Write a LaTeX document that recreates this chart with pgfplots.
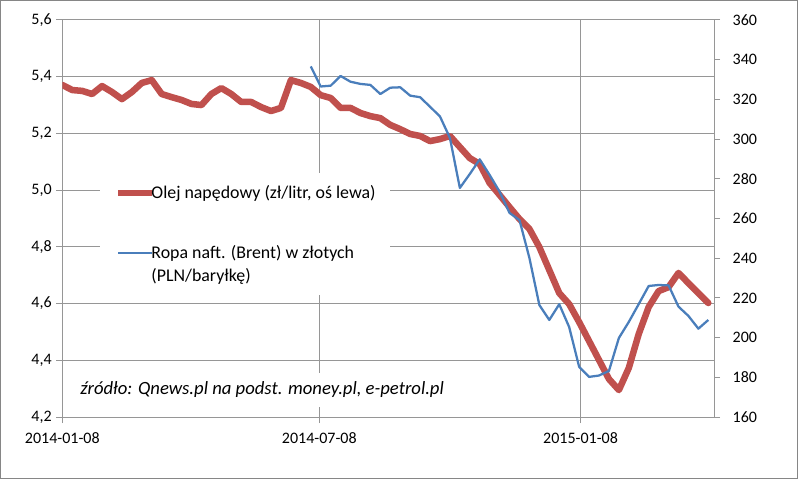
\documentclass[border=0pt]{standalone}
\usepackage{fontspec}
\setmainfont{Carlito}
\usepackage{pgfplots}
\pgfplotsset{compat=1.18}
\definecolor{redline}{RGB}{192,80,77}
\definecolor{blueline}{RGB}{74,126,187}
\definecolor{gridc}{RGB}{150,150,150}
\definecolor{framec}{RGB}{134,134,134}

\pgfplotstableread{
x y
0 5.371
7 5.353
14 5.350
21 5.339
28 5.367
35 5.346
42 5.321
49 5.346
56 5.378
63 5.388
70 5.339
77 5.328
84 5.318
91 5.304
98 5.300
105 5.339
112 5.360
119 5.339
126 5.311
133 5.311
140 5.293
147 5.279
154 5.290
161 5.388
168 5.378
175 5.364
182 5.335
189 5.325
196 5.290
203 5.290
210 5.272
217 5.261
224 5.254
231 5.230
238 5.215
245 5.198
252 5.191
259 5.173
266 5.180
273 5.191
280 5.152
287 5.113
294 5.092
301 5.025
308 4.983
315 4.940
322 4.898
329 4.863
336 4.799
343 4.718
350 4.637
357 4.598
364 4.535
371 4.468
378 4.401
385 4.334
392 4.295
399 4.373
406 4.493
413 4.588
420 4.644
427 4.658
434 4.708
441 4.672
448 4.637
455 4.602
}\diesel

\pgfplotstableread{
x y
175 336.6
182 326.5
189 326.9
196 331.8
203 328.9
210 327.8
217 327.3
224 322.7
231 325.9
238 326.1
245 321.9
252 321.1
259 316.3
266 311.4
273 300.6
280 275.4
287 282.4
294 289.8
301 281.9
308 273.5
315 262.8
322 259.2
329 240.1
336 216.4
343 208.9
350 216.8
357 205.3
364 185.3
371 180.2
378 180.9
385 183.2
392 199.8
399 207.9
406 216.9
413 226.0
420 226.5
427 226.3
434 215.6
441 210.9
448 204.5
455 208.9
}\brent

\pgfplotsset{
  myaxis/.style={
    at={(0,0)}, anchor=south west,
    scale only axis, width=488.775bp, height=297.75bp,
    xmin=0, xmax=459,
    axis line style={gridc, line width=0.75bp},
    tick style={gridc, line width=0.75bp},
    major tick length=4.5bp,
    tick align=outside,
    ticklabel style={font=\fontsize{12bp}{14bp}\selectfont, text=black},
    /pgf/number format/assume math mode=true,
  },
  limg/.style={legend image code/.code={\draw[##1] (0bp,0bp) -- (25.5bp,0bp);}},
  limgup/.style={legend image code/.code={\draw[##1] (0bp,8.5bp) -- (25.5bp,8.5bp); \path (0bp,-8.5bp);}},
}

\begin{document}
\begin{tikzpicture}
\path[use as bounding box] (-46.725bp,-48bp) rectangle (553.275bp,312.75bp);
\draw[framec, line width=0.75bp] (-46.2bp,-45.75bp) rectangle (551.4bp,312.15bp);

\begin{axis}[
  myaxis,
  ymin=4.2, ymax=5.6,
  xtick={0,181,365},
  xticklabels={2014-01-08,2014-07-08,2015-01-08},
  xticklabel style={yshift=-3.75bp},
  ytick={4.2,4.4,4.6,4.8,5.0,5.2,5.4,5.6},
  yticklabel style={/pgf/number format/.cd, use comma, fixed, fixed zerofill, precision=1},
  xtick pos=left, ytick pos=left,
  xmajorgrids, ymajorgrids,
  major grid style={gridc, line width=0.75bp},
]
\addplot[redline, line width=4.9bp, line join=round, line cap=round] table[x=x,y=y] {\diesel};
\end{axis}

\begin{axis}[
  myaxis,
  ymin=160, ymax=360,
  ytick={160,180,200,220,240,260,280,300,320,340,360},
  yticklabel style={xshift=6bp},
  axis x line=none,
  axis y line*=right,
  axis line style={-},
  legend style={
    at={(rel axis cs:0.0578,0.6146)}, anchor=north west,
    fill=white, draw=none,
    inner xsep=11bp, inner ysep=9bp,
    row sep=34bp, column sep=-3bp,
    font=\fontsize{13.4bp}{17bp}\selectfont,
    cells={anchor=west},
    nodes={inner sep=0pt, align=left},
  },
]
\addlegendimage{redline, line width=4.9bp, limg}
\addlegendentry{Olej napędowy (zł/litr, oś lewa)}
\addplot[blueline, line width=1.7bp, line join=round, limgup] table[x=x,y=y] {\brent};
\addlegendentry{Ropa naft. (Brent) w złotych\\(PLN/baryłkę)}
\node[fill=white, inner xsep=0pt, inner ysep=6.5bp, anchor=west, font=\itshape\fontsize{14bp}{16bp}\selectfont] at (rel axis cs:0.0272,0.068) {źródło: Qnews.pl na podst. money.pl, e-petrol.pl};
\end{axis}
\end{tikzpicture}
\end{document}
